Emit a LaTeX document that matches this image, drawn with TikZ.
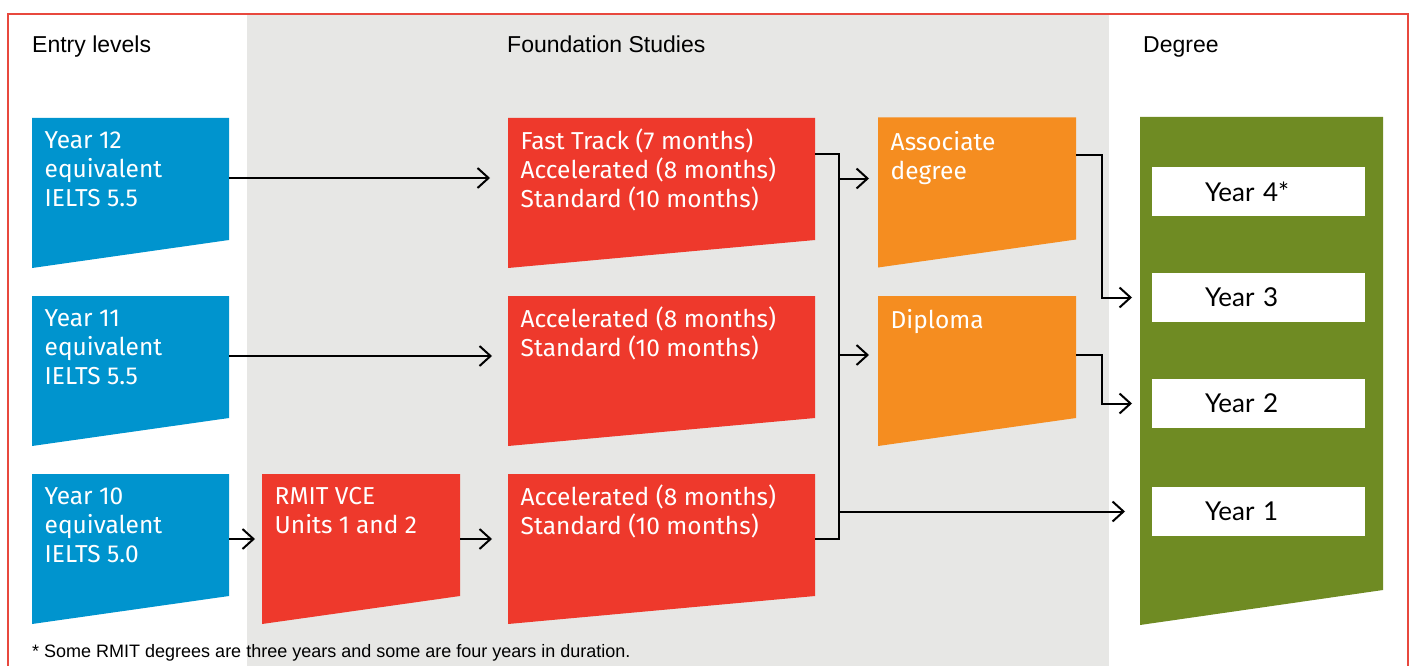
\documentclass[tikz,border=0pt]{standalone}
\usepackage{fontspec}
\setmainfont{Liberation Sans}
\newfontfamily\boxfont{Fira Sans}
\newfontfamily\yearfont{Lato}
\usetikzlibrary{arrows.meta,backgrounds}

\definecolor{entryblue}{RGB}{0,148,206}
\definecolor{studyred}{RGB}{238,57,44}
\definecolor{assocorange}{RGB}{245,141,32}
\definecolor{degreegreen}{RGB}{111,139,35}
\definecolor{panelgray}{RGB}{231,231,229}
\definecolor{framered}{RGB}{232,72,62}

\begin{document}
\begin{tikzpicture}%
        [x=1pt, y=-1pt,
        box/.style={inner sep=0pt, outer sep=0pt, minimum height=150},
        txt/.style={anchor=north west, inner xsep=12.5, inner ysep=13.5, align=left, text=white, font=\boxfont\fontsize{24.5}{29}\selectfont},
        txtp/.style={txt, inner ysep=11},
        head/.style={anchor=base west, inner sep=0pt, font=\fontsize{23}{27}\selectfont},
        note/.style={anchor=base west, inner sep=0pt, font=\fontsize{18}{21}\selectfont},
        year/.style={fill=white, inner sep=0pt, outer sep=0pt, minimum width=213, minimum height=49, text width=213, align=left, font=\yearfont\fontsize{26}{30}\selectfont},
        link/.style={line width=2pt},
        arr/.style={link, -{Straight Barb[length=11pt,width=20pt]}}]
    %
    \useasboundingbox (0,0) rectangle (1410,666);
    %
    %% Column titles
    \node[head] (tEntry) at (32,53) {Entry levels};
    \node[head] (tFound) at (507,53) {Foundation Studies};
    \node[head] (tDeg) at (1143,53) {Degree};
    %%
    %% Entry levels
    \node[box, minimum width=197, label={[txt]north west:{Year 12\\equivalent\\IELTS 5.5}}] (y12) at (130.5,193) {};
    \node[box, minimum width=197, label={[txt]north west:{Year 11\\equivalent\\IELTS 5.5}}] (y11) at (130.5,371) {};
    \node[box, minimum width=197, label={[txt]north west:{Year 10\\equivalent\\IELTS 5.0}}] (y10) at (130.5,549) {};
    %%
    %% Foundation Studies
    \node[box, minimum width=198, label={[txt]north west:{RMIT VCE\\Units 1 and 2}}] (vce) at (361,549) {};
    \node[box, minimum width=307, label={[txtp]north west:{Fast Track (7 months)\\Accelerated (8 months)\\Standard (10 months)}}] (fs1) at (661.5,193) {};
    \node[box, minimum width=307, label={[txtp]north west:{Accelerated (8 months)\\Standard (10 months)}}] (fs2) at (661.5,371) {};
    \node[box, minimum width=307, label={[txtp]north west:{Accelerated (8 months)\\Standard (10 months)}}] (fs3) at (661.5,549) {};
    \node[box, minimum width=198, label={[txt]north west:{Associate\\degree}}] (ad) at (977,192.5) {};
    \node[box, minimum width=198, label={[txt]north west:{Diploma}}] (dip) at (977,371) {};
    %%
    %% Degree
    \node[box, minimum width=243, minimum height=508] (deg) at (1261.5,371) {};
    \node[year] (yr4) at (1258.5,191.5) {\hspace*{53pt}Year 4*};
    \node[year] (yr3) at (1258.5,297.5) {\hspace*{53pt}Year 3};
    \node[year] (yr2) at (1258.5,403.5) {\hspace*{53pt}Year 2};
    \node[year] (yr1) at (1258.5,511.5) {\hspace*{53pt}Year 1};
    %%
    %% Drawing the shapes
    \begin{scope}[on background layer]
    \fill[panelgray] (247,15) rectangle (1109,666);
    \fill[entryblue] (y12.north west) -- (y12.north east) -- ([yshift=28pt]y12.south east) -- (y12.south west) -- cycle;
    \fill[entryblue] (y11.north west) -- (y11.north east) -- ([yshift=28pt]y11.south east) -- (y11.south west) -- cycle;
    \fill[entryblue] (y10.north west) -- (y10.north east) -- ([yshift=28pt]y10.south east) -- (y10.south west) -- cycle;
    \fill[studyred] (vce.north west) -- (vce.north east) -- ([yshift=28pt]vce.south east) -- (vce.south west) -- cycle;
    \fill[studyred] (fs1.north west) -- (fs1.north east) -- ([yshift=28pt]fs1.south east) -- (fs1.south west) -- cycle;
    \fill[studyred] (fs2.north west) -- (fs2.north east) -- ([yshift=28pt]fs2.south east) -- (fs2.south west) -- cycle;
    \fill[studyred] (fs3.north west) -- (fs3.north east) -- ([yshift=28pt]fs3.south east) -- (fs3.south west) -- cycle;
    \fill[assocorange] (ad.north west) -- (ad.north east) -- ([yshift=28pt]ad.south east) -- (ad.south west) -- cycle;
    \fill[assocorange] (dip.north west) -- (dip.north east) -- ([yshift=28pt]dip.south east) -- (dip.south west) -- cycle;
    \fill[degreegreen] (deg.north west) -- (deg.north east) -- ([yshift=35pt]deg.south east) -- (deg.south west) -- cycle;
    \end{scope}
    \draw[framered, line width=1.3pt] (8,666) |- (1408,14) -- (1408,666);
    %%
    %% Connectors
    \draw[arr, shorten >=18pt] ([yshift=-60pt]y12.north east) -- ([yshift=-60pt]fs1.north west);
    \draw[arr, shorten >=16pt] ([yshift=-60pt]y11.north east) -- ([yshift=-60pt]fs2.north west);
    \draw[arr, shorten >=7pt] ([yshift=-65pt]y10.north east) -- ([yshift=-65pt]vce.north west);
    \draw[arr, shorten >=16pt] ([yshift=-65pt]vce.north east) -- ([yshift=-65pt]fs3.north west);
    %
    \coordinate (busT) at ([xshift=24pt, yshift=-36pt]fs1.north east);
    \coordinate (busB) at ([xshift=24pt, yshift=-65pt]fs3.north east);
    \coordinate (adIn) at ([yshift=-61pt]ad.north west);
    \coordinate (dipIn) at ([yshift=-59pt]dip.north west);
    \draw[link] ([yshift=-36pt]fs1.north east) -- (busT) -- (busB) -- ([yshift=-65pt]fs3.north east);
    \draw[arr, shorten >=9pt] (busT |- adIn) -- (adIn);
    \draw[arr, shorten >=9pt] (busT |- dipIn) -- (dipIn);
    \draw[arr, shorten >=27pt] (busB |- yr1.west) -- (yr1.west);
    %
    \coordinate (drop) at ([xshift=26pt]ad.east);
    \draw[arr, shorten >=20pt] ([yshift=-37pt]ad.north east) -| (drop |- yr3.west) -- (yr3.west);
    \draw[arr, shorten >=20pt] ([yshift=-59pt]dip.north east) -| (drop |- yr2.west) -- (yr2.west);
    %%
    %% Footnote
    \node[note] (fn) at (32,657) {* Some RMIT degrees are three years and some are four years in duration.};
\end{tikzpicture}
\end{document}
